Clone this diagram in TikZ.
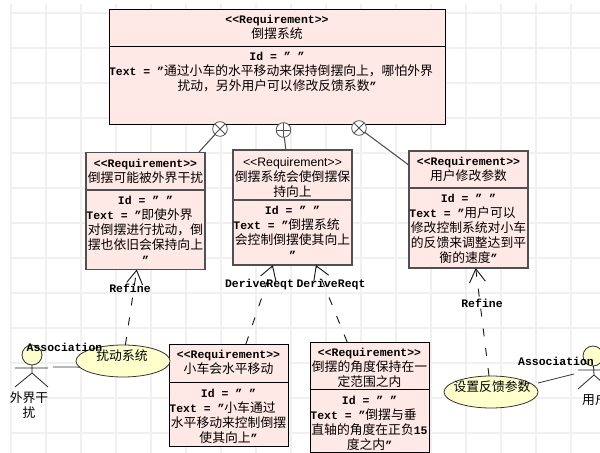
\documentclass[tikz,border=0pt]{standalone}
\usepackage{fontspec}
\setmainfont[Ligatures=NoCommon]{Liberation Mono}
\newfontfamily\cjk{Noto Sans CJK SC}
\newfontfamily\arialf{Liberation Sans}
\newcommand{\zh}[1]{{\cjk\mdseries\fontsize{9.6pt}{11.25pt}\selectfont #1}}
\newcommand{\st}{<{}<Requirement>{}>}
\newcommand{\tl}{\rule{9pt}{0pt}}
\usetikzlibrary{shapes.geometric,arrows.meta}
\definecolor{reqfill}{HTML}{FFE9E6}
\definecolor{ucfill}{HTML}{FFFFCC}
\definecolor{gridc}{HTML}{F0F0F0}
\definecolor{edgegray}{HTML}{505050}
\tikzset{
  x=0.75pt,y=-0.75pt,
  sz/.style 2 args={minimum width=#1*0.75pt,minimum height=#2*0.75pt},
  reqbox/.style={draw=black,fill=reqfill,line width=0.6pt,inner sep=0,outer sep=0},
  reqgray/.style={reqbox,draw=edgegray,line width=0.9pt},
  txt/.style={inner sep=0,outer sep=0,align=center,font=\fontsize{8.6pt}{11.25pt}\selectfont\bfseries},
  ucase/.style={ellipse,draw=black!80,fill=ucfill,line width=0.6pt,inner sep=0,outer sep=0,minimum width=70.5pt,minimum height=24pt},
  compo/.style={circle,draw=edgegray,fill=white,line width=0.6pt,minimum size=11pt,inner sep=0,outer sep=0},
  xorc/.style={compo,path picture={\draw[edgegray,line width=0.6pt]
     (path picture bounding box.north west)--(path picture bounding box.south east)
     (path picture bounding box.north east)--(path picture bounding box.south west);}},
  plusc/.style={compo,path picture={\draw[edgegray,line width=0.6pt]
     (path picture bounding box.north)--(path picture bounding box.south)
     (path picture bounding box.east)--(path picture bounding box.west);}},
  contain/.style={draw=edgegray,line width=0.8pt},
  dep/.style={draw=black!90,line width=0.7pt,dash pattern=on 6pt off 9pt,-{Straight Barb[length=10pt,width=12pt]}},
  stickf/.style={draw=black!85,line width=0.6pt},
  head/.style={circle,draw=black!80,fill=ucfill,line width=0.6pt,minimum size=15pt,inner sep=0,outer sep=0},
  assoc/.style={draw=black!80,line width=0.6pt},
}
\begin{document}
\begin{tikzpicture}
\useasboundingbox (0,0) rectangle (600,453);
\fill[white] (0,0) rectangle (600,453);
% grid
\foreach \gx in {11,46,...,606} \draw[gridc,line width=0.9pt] (\gx,4) -- (\gx,453);
\foreach \gy in {13,48,...,433} \draw[gridc,line width=0.9pt] (10,\gy) -- (600,\gy);
% boxes
\node[reqbox,sz={336}{115}] (main) at (277,66.5) {};
\draw[black,line width=0.6pt] (main.west |- 0,46) -- (main.east |- 0,46);
\node[txt] (mainT) at (277,27.5) {\st\\\zh{倒摆系统}};
\node[txt] (mainB) at (277,72.5) {Id = ” ”\\Text = ”\zh{通过小车的水平移动来保持倒摆向上，哪怕外界}\tl\\\zh{扰动，另外用户可以修改反馈系数}”};

\node[reqgray,sz={119}{117}] (boxA) at (145.5,211) {};
\draw[edgegray,line width=0.9pt] (boxA.west |- 0,190) -- (boxA.east |- 0,190);
\node[txt] (boxAT) at (145.5,171.5) {\st\\\zh{倒摆可能被外界干扰}};
\node[txt] (boxAB) at (145.5,230) {Id = ” ”\\Text = ”\zh{即使外界}\tl\\\zh{对倒摆进行扰动，倒}\\\zh{摆也依旧会保持向上}\\”};

\node[reqgray,sz={119}{115}] (boxB) at (292.5,207.5) {};
\draw[edgegray,line width=0.9pt] (boxB.west |- 0,200) -- (boxB.east |- 0,200);
\node[txt,font=\fontsize{9.2pt}{11.25pt}\selectfont] (boxBT) at (292.5,177.5) {{\arialf \st}\\\zh{倒摆系统会使倒摆保}\\\zh{持向上}};
\node[txt] (boxBB) at (292.5,232.5) {Id = ” ”\\Text = ”\zh{倒摆系统}\tl\\\zh{会控制倒摆使其向上}\\”};

\node[reqgray,sz={119}{117}] (boxC) at (468.5,209.5) {};
\draw[edgegray,line width=0.9pt] (boxC.west |- 0,188) -- (boxC.east |- 0,188);
\node[txt] (boxCT) at (468.5,169) {\st\\\zh{用户修改参数}};
\node[txt] (boxCB) at (468.5,229) {Id = ” ”\\Text = ”\zh{用户可以}\tl\\\zh{修改控制系统对小车}\\\zh{的反馈来调整达到平}\\\zh{衡的速度}”};

\node[reqbox,sz={119}{102}] (boxD) at (228.5,395) {};
\draw[black,line width=0.6pt] (boxD.west |- 0,382) -- (boxD.east |- 0,382);
\node[txt] (boxDT) at (228.5,362.5) {\st\\\zh{小车会水平移动}};
\node[txt] (boxDB) at (228.5,416) {Id = ” ”\\Text = ”\zh{小车通过}\tl\\\zh{水平移动来控制倒摆}\\\zh{使其向上}”};

\node[reqbox,sz={119}{110}] (boxE) at (369.5,397) {};
\draw[black,line width=0.6pt] (boxE.west |- 0,389) -- (boxE.east |- 0,389);
\node[txt] (boxET) at (369.5,368) {\st\\\zh{倒摆的角度保持在一}\\\zh{定范围之内}};
\node[txt] (boxEB) at (369.5,423) {Id = ” ”\\Text = ”\zh{倒摆与垂}\tl\\\zh{直轴的角度在正负}15\\\zh{度之内}”};

% containment
\node[xorc] (c1) at (220,129) {};
\node[plusc] (c2) at (283.5,130) {};
\node[xorc] (c3) at (359,128) {};
\draw[contain] (c1) -- (boxA);
\draw[contain] (c2) -- (boxB);
\draw[contain] (c3) -- (boxC);

% use cases
\node[ucase] (ucL) at (123,361) {};
\node[ucase] (ucR) at (491,392) {};
\node[txt] (ucLt) at (122,356) {\zh{扰动系统}};
\node[txt] (ucRt) at (492,387) {\zh{设置反馈参数}};

% dependencies
\draw[dep] (ucL) -- (boxA);
\draw[dep] (boxD) -- (boxB);
\draw[dep] (boxE) -- (boxB);
\draw[dep] (ucR) -- (boxC);
\node[txt] (rfA) at (130,288) {Refine};
\node[txt] (rfC) at (482,303) {Refine};
\node[txt] (drA) at (259.5,285) {DeriveReqt};
\node[txt] (drB) at (331,285) {DeriveReqt};

% actors
\node[head] (headL) at (32,355) {};
\coordinate (hipL) at (32,373);
\coordinate (armLa) at (15,368);
\coordinate (armLb) at (48,368);
\coordinate (footLa) at (15,387);
\coordinate (footLb) at (48,387);
\draw[stickf] (headL) -- (hipL) (armLa) -- (armLb) (footLa) -- (hipL) -- (footLb);
\node[txt] (actL) at (29,405.5) {\zh{外界干}\\\zh{扰}};

\node[head] (headR) at (593,356) {};
\coordinate (hipR) at (594,375);
\coordinate (armRa) at (578,370);
\coordinate (armRb) at (610,370);
\coordinate (footRa) at (578,389);
\coordinate (footRb) at (610,389);
\draw[stickf] (headR) -- (hipR) (armRa) -- (armRb) (footRa) -- (hipR) -- (footRb);
\node[txt] (actR) at (595,400) {\zh{用户}};

% associations
\coordinate (asL) at (53,367);
\draw[assoc] (asL) -- (ucL.188);
\coordinate (asRa) at (538,383);
\coordinate (asRb) at (574,374);
\draw[assoc] (asRa) -- (asRb);
\node[txt] (asLt) at (64.5,347) {Association};
\node[txt] (asRt) at (556,361) {Association};
\end{tikzpicture}
\end{document}
